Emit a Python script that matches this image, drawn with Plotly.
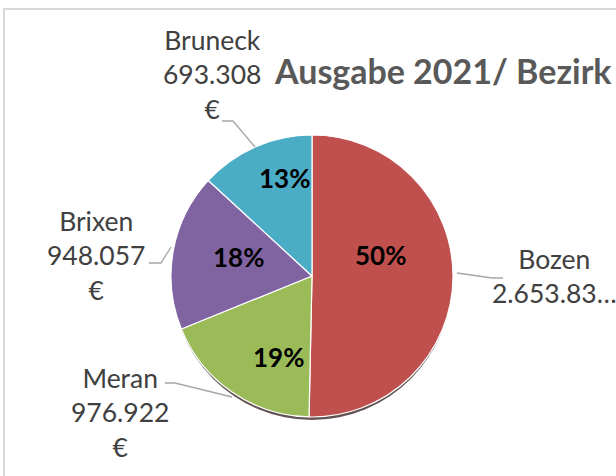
import plotly.graph_objects as go

# ---- data ----
districts = ["Bozen", "Meran", "Brixen", "Bruneck"]
spending = [2653830, 976922, 948057, 693308]
value_labels = ["2.653.83…", "976.922<br>€", "948.057<br>€", "693.308<br>€"]
colors = ["#C0504D", "#9BBB59", "#8064A2", "#4BACC6"]
title_text = "Ausgabe 2021/ Bezirk"

W, H = 616, 476
FONT = "Lato"


def px(x):
    return x / W


def py(y):
    return 1 - y / H


cx, cy, r = 312, 276, 141

total = sum(spending)
percents = [f"<b>{round(100 * v / total)}%</b>" for v in spending]

fig = go.Figure()
fig.add_trace(go.Pie(
    labels=districts,
    values=spending,
    sort=False,
    direction="clockwise",
    rotation=0,
    marker=dict(colors=colors, line=dict(color="white", width=1.2)),
    textinfo="none",
    domain=dict(x=[px(cx - r), px(cx + r)], y=[py(cy + r), py(cy - r)]),
    showlegend=False,
    hoverinfo="label+value+percent",
))

shapes = []
# chart frame
shapes.append(dict(type="rect", xref="paper", yref="paper",
                   x0=px(4), x1=1.2, y0=-0.2, y1=py(9),
                   line=dict(color="#D9D9D9", width=2), layer="below"))
# shadow under pie
shapes.append(dict(type="circle", xref="paper", yref="paper",
                   x0=px(cx - r + 1), x1=px(cx + r - 1), y0=py(cy + r + 3), y1=py(cy - r + 3),
                   fillcolor="rgba(50,25,25,0.75)", line=dict(width=0), layer="below"))

# leader lines
leaders = [
    [(457, 273), (492, 278), (503, 278)],    # Bozen
    [(232, 397), (175, 383), (165, 383)],    # Meran
    [(171, 247), (161, 263), (149, 263)],    # Brixen
    [(255, 147), (233, 121), (222, 121)],    # Bruneck
]
for pts in leaders:
    path = "M " + " L ".join(f"{px(x):.5f},{py(y):.5f}" for x, y in pts)
    shapes.append(dict(type="path", xref="paper", yref="paper", path=path,
                       line=dict(color="#A6A6A6", width=1.3)))

annotations = []
label_pos = [(554, 276), (120, 412), (96, 255), (212, 74)]
for name, val, (x, y) in zip(districts, value_labels, label_pos):
    annotations.append(dict(
        x=px(x), y=py(y), xref="paper", yref="paper",
        text=f"{name}<br>{val}", showarrow=False,
        font=dict(family=FONT, size=26.5, color="#404040"),
        xanchor="center", yanchor="middle", align="center",
    ))

pct_pos = [(380, 255), (278, 357), (238, 257), (284, 178)]
for txt, (x, y) in zip(percents, pct_pos):
    annotations.append(dict(
        x=px(x), y=py(y), xref="paper", yref="paper",
        text=txt, showarrow=False,
        font=dict(family=FONT, size=26, color="black"),
        xanchor="center", yanchor="middle",
    ))

annotations.append(dict(
    x=px(272), y=py(70), xref="paper", yref="paper",
    text=f"<b>{title_text}</b>", showarrow=False,
    font=dict(family=FONT, size=34, color="#595959"),
    xanchor="left", yanchor="middle",
))

fig.update_layout(
    width=W, height=H,
    margin=dict(l=0, r=0, t=0, b=0),
    paper_bgcolor="white",
    plot_bgcolor="white",
    shapes=shapes,
    annotations=annotations,
)

fig.write_html("out.html", config={"displayModeBar": False},
               post_script="document.body.style.margin='0';")
